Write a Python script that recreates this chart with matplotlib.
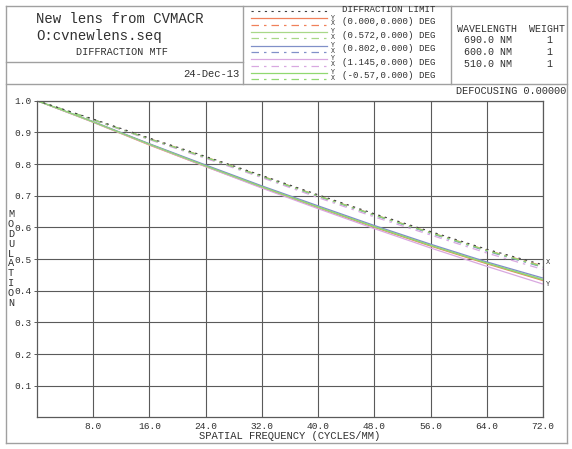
import matplotlib
matplotlib.use("Agg")
import matplotlib.pyplot as plt
from matplotlib.lines import Line2D

# ---------------- data ----------------
freq = [0, 4, 8, 16, 24, 32, 40, 48, 56, 64, 72]
diff_limit = [1.0, 0.971, 0.942, 0.882, 0.824, 0.764, 0.703, 0.643, 0.587, 0.531, 0.482]

field_labels = ["(0.000,0.000) DEG", "(0.572,0.000) DEG", "(0.802,0.000) DEG",
                "(1.145,0.000) DEG", "(-0.57,0.000) DEG"]
field_colors = ["#F0805A", "#A8D888", "#8090C8", "#D8A8E0", "#90D870"]

tan_mtf = [
    [1.0, 0.966, 0.932, 0.860, 0.792, 0.726, 0.662, 0.600, 0.541, 0.485, 0.432],
    [1.0, 0.967, 0.933, 0.863, 0.795, 0.729, 0.665, 0.603, 0.544, 0.488, 0.436],
    [1.0, 0.967, 0.934, 0.864, 0.797, 0.731, 0.668, 0.606, 0.547, 0.491, 0.440],
    [1.0, 0.966, 0.932, 0.861, 0.792, 0.724, 0.659, 0.596, 0.535, 0.477, 0.421],
    [1.0, 0.967, 0.933, 0.862, 0.794, 0.728, 0.664, 0.602, 0.543, 0.487, 0.434],
]
sag_mtf = [
    [1.0, 0.970, 0.940, 0.880, 0.822, 0.762, 0.700, 0.640, 0.584, 0.528, 0.478],
    [1.0, 0.970, 0.940, 0.879, 0.821, 0.761, 0.699, 0.639, 0.583, 0.527, 0.476],
    [1.0, 0.970, 0.940, 0.879, 0.820, 0.760, 0.698, 0.638, 0.581, 0.525, 0.474],
    [1.0, 0.970, 0.939, 0.877, 0.818, 0.757, 0.694, 0.633, 0.576, 0.519, 0.467],
    [1.0, 0.970, 0.940, 0.879, 0.821, 0.761, 0.699, 0.639, 0.583, 0.527, 0.476],
]

x_ticks = [8, 16, 24, 32, 40, 48, 56, 64, 72]
y_ticks = [0.1, 0.2, 0.3, 0.4, 0.5, 0.6, 0.7, 0.8, 0.9, 1.0]
wavelengths = ["690.0 NM", "600.0 NM", "510.0 NM"]
weights = ["1", "1", "1"]

# ---------------- figure ----------------
W, H = 572, 449
fig = plt.figure(figsize=(W / 100, H / 100), dpi=100)
FONT = "Liberation Mono"
TXT = "#303030"
FRAME = "#A0A0A0"
GRID = "#5A5A5A"


def fx(x):
    return x / W


def fy(y):
    return 1 - y / H


def hline(y, x0, x1, color=FRAME, lw=1.0, ls="-"):
    fig.add_artist(Line2D([fx(x0), fx(x1)], [fy(y), fy(y)], color=color, lw=lw,
                          ls=ls, transform=fig.transFigure))


def vline(x, y0, y1, color=FRAME, lw=1.0):
    fig.add_artist(Line2D([fx(x), fx(x)], [fy(y0), fy(y1)], color=color, lw=lw,
                          transform=fig.transFigure))


def text(x, y, s, size, ha="left", va="center", **kw):
    fig.text(fx(x), fy(y), s, fontsize=size, ha=ha, va=va, family=FONT,
             color=TXT, **kw)


# outer frame and header boxes
hline(6, 6, 567)
hline(443, 6, 567)
vline(6, 6, 443)
vline(567, 6, 443)
hline(84, 6, 567)
vline(243, 6, 84)
vline(451, 6, 84)
hline(62, 6, 243)

# title block
text(36, 19, "New lens from CVMACR", 10.1)
text(36, 36, "O:cvnewlens.seq", 10.1)
text(122, 52, "DIFFRACTION MTF", 7.4, ha="center")
text(240, 74, "24-Dec-13", 7.6, ha="right")

# legend block
sag_ls = (0, (6, 4, 2, 4))
hline(11, 251, 327, color="#404040", lw=0.8, ls=(0, (2, 4)))
text(342, 9.5, "DIFFRACTION LIMIT", 6.6)
solid_y = [18.3, 32.0, 45.6, 59.2, 72.5]
for i, (lab, col) in enumerate(zip(field_labels, field_colors)):
    ys = solid_y[i]
    hline(ys, 251, 327, color=col, lw=0.9)
    hline(ys + 6.3, 251, 327, color=col, lw=0.9, ls=sag_ls)
    text(333, ys - 0.3, "Y", 4.8, ha="center")
    text(333, ys + 5.5, "X", 4.8, ha="center")
    text(342, ys + 3.2, lab, 6.6)

# wavelength block
text(457, 29, "WAVELENGTH  WEIGHT", 7.2)
for i, (wl, wt) in enumerate(zip(wavelengths, weights)):
    text(464, 40 + 12 * i, wl, 7.2)
    text(549, 40 + 12 * i, wt, 7.2, ha="center")

text(566, 91, "DEFOCUSING 0.00000", 7.4, ha="right")

# ---------------- plot ----------------
ax = fig.add_axes([fx(37), fy(417.4), (543 - 37) / W, (417.4 - 100.7) / H])
ax.set_xlim(0, 72)
ax.set_ylim(0, 1.0)
ax.set_xticks(x_ticks)
ax.set_yticks(y_ticks)
ax.set_xticklabels([f"{v:.1f}" for v in x_ticks])
ax.set_yticklabels([f"{v:.1f}" for v in y_ticks])
ax.grid(True, color=GRID, lw=0.8)
ax.set_axisbelow(True)
for sp in ax.spines.values():
    sp.set_color(GRID)
    sp.set_linewidth(0.9)
ax.tick_params(axis="both", length=2, width=0.7, color=GRID, labelcolor=TXT,
               labelsize=6.8, pad=2)
ax.tick_params(axis="x", length=0, pad=3)
for lab in ax.get_xticklabels() + ax.get_yticklabels():
    lab.set_family(FONT)

for i, col in enumerate(field_colors):
    ax.plot(freq, tan_mtf[i], color=col, lw=0.9, solid_capstyle="butt")
    ax.plot(freq, sag_mtf[i], color=col, lw=0.9, ls=sag_ls)
ax.plot(freq, diff_limit, color="#404040", lw=0.8, ls=(0, (2, 4)))

ax.text(1.006, sag_mtf[0][-1] + 0.012, "X", transform=ax.get_yaxis_transform(),
        fontsize=5, family=FONT, color=TXT, ha="left", va="center")
ax.text(1.006, tan_mtf[3][-1] - 0.0, "Y", transform=ax.get_yaxis_transform(),
        fontsize=5, family=FONT, color=TXT, ha="left", va="center")

text(290, 436, "SPATIAL FREQUENCY (CYCLES/MM)", 7.6, ha="center")
for i, ch in enumerate("MODULATION"):
    text(11, 214 + 9.9 * i, ch, 7.4, ha="center")

fig.savefig("out.png", dpi=100)
